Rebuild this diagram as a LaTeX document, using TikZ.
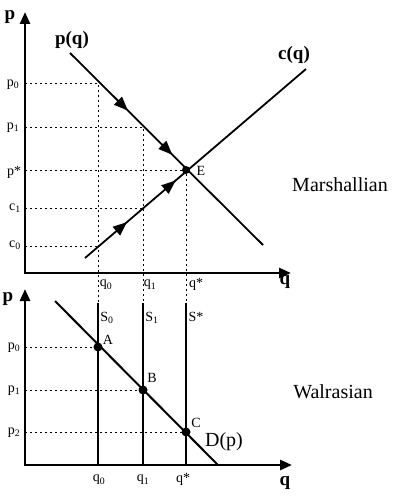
\documentclass[tikz,border=0pt]{standalone}
\usepackage{fontspec}
\setmainfont{Liberation Serif}
\usepackage{tikz}
\usetikzlibrary{arrows.meta,decorations.markings}
\definecolor{cInk}{HTML}{000000}
\tikzset{
  axis-line/.style={draw=cInk,line width=2.6pt,
    {Triangle[width=10pt,length=12pt]}-{Triangle[width=10pt,length=12pt]}},
  curve-line/.style={draw=cInk,line width=1.8pt},
  supply-line/.style={draw=cInk,line width=2.4pt},
  guide-line/.style={draw=cInk,line width=0.8pt,dash pattern=on 2pt off 3pt},
  eq-dot/.style={circle,fill=cInk,inner sep=0pt,minimum size=9pt},
  tick-label/.style={font=\fontsize{14}{16}\selectfont,inner sep=0pt},
  point-label/.style={font=\fontsize{14}{16}\selectfont,inner sep=0pt},
  axis-label/.style={font=\fontsize{19}{22}\selectfont\bfseries,inner sep=0pt},
  curve-label/.style={font=\fontsize{19}{22}\selectfont\bfseries,inner sep=0pt},
  panel-label/.style={font=\fontsize{20}{24}\selectfont,inner sep=0pt},
  % two flow arrows along a curve, tips pointing to E
  flow-arrows/.style 2 args={postaction={decorate},decoration={markings,
    mark=at position #1 with {\arrow{Triangle[width=11pt,length=14pt]}},
    mark=at position #2 with {\arrow{Triangle[width=11pt,length=14pt]}}}},
}

\begin{document}
\begin{tikzpicture}[x=1pt,y=-1pt]
  \useasboundingbox (0,0) rectangle (396,497);
  % Marshallian panel
  \coordinate (top-origin) at (25,273);
  \coordinate (top-ytip) at (25,12);
  \coordinate (top-xtip) at (291,273);
  \draw[axis-line] (top-ytip) -- (top-origin) -- (top-xtip);
  \node[axis-label] (top-p) at (10,17) {p};
  \node[axis-label] (top-q) at (285,282) {q};

  \coordinate (pq-start) at (70,53);
  \coordinate (pq-end) at (263,245);
  \coordinate (cq-start) at (85,258);
  \coordinate (cq-end) at (306,69);
  \draw[curve-line,flow-arrows={0.3}{0.53}] (pq-start) -- (pq-end);
  \draw[curve-line,flow-arrows={0.19}{0.41}] (cq-start) -- (cq-end);
  \node[curve-label] (pq-lab) at (72,40) {p(q)};
  \node[curve-label] (cq-lab) at (294,55) {c(q)};

  \coordinate (pq-q0) at (98,83);
  \coordinate (pq-q1) at (143,127);
  \coordinate (cq-q1) at (143,208);
  \coordinate (cq-q0) at (98,246);
  \coordinate (p0-tick) at (25,83);
  \coordinate (p1-tick) at (25,127);
  \coordinate (ps-tick) at (25,170);
  \coordinate (c1-tick) at (25,208);
  \coordinate (c0-tick) at (25,246);
  \coordinate (q0-drop) at (98,303);
  \coordinate (q1-drop) at (143,303);
  \coordinate (qs-drop) at (186,303);

  \node[eq-dot,minimum size=8pt] (E) at (186,170) {};
  \node[point-label] (E-lab) at (201,171) {E};

  \draw[guide-line] (p0-tick) -- (pq-q0) -- (q0-drop);
  \draw[guide-line] (p1-tick) -- (pq-q1) -- (q1-drop);
  \draw[guide-line] (ps-tick) -- (E.center) -- (qs-drop);
  \draw[guide-line] (c1-tick) -- (cq-q1);
  \draw[guide-line] (c0-tick) -- (cq-q0);

  \node[tick-label] (p0-top) at (13,85) {p\textsubscript{0}};
  \node[tick-label] (p1-top) at (13,128) {p\textsubscript{1}};
  \node[tick-label] (ps-top) at (14,172) {p*};
  \node[tick-label] (c1-top) at (15,208) {c\textsubscript{1}};
  \node[tick-label] (c0-top) at (15,245) {c\textsubscript{0}};
  \node[tick-label] (q0-top) at (106,285) {q\textsubscript{0}};
  \node[tick-label] (q1-top) at (150,285) {q\textsubscript{1}};
  \node[tick-label] (qs-top) at (196,284) {q*};
  \node[panel-label] (marsh) at (340,185) {Marshallian};

  % Walrasian panel
  \coordinate (low-origin) at (25,465);
  \coordinate (low-ytip) at (25,289);
  \coordinate (low-xtip) at (292,465);
  \draw[axis-line] (low-ytip) -- (low-origin) -- (low-xtip);
  \node[axis-label] (low-p) at (8,299) {p};
  \node[axis-label] (low-q) at (285,483) {q};

  \coordinate (S0-base) at (98,465);
  \coordinate (S1-base) at (143,465);
  \coordinate (Ss-base) at (186,465);
  \draw[supply-line] (q0-drop) -- (S0-base);
  \draw[supply-line] (q1-drop) -- (S1-base);
  \draw[supply-line] (qs-drop) -- (Ss-base);

  \coordinate (D-start) at (55,301);
  \coordinate (D-end) at (218,465);
  \draw[curve-line,line width=2pt] (D-start) -- (D-end);

  \node[eq-dot] (A) at (98,347) {};
  \node[eq-dot] (B) at (143,390) {};
  \node[eq-dot] (C) at (186,432) {};
  \coordinate (p0-low) at (25,347);
  \coordinate (p1-low) at (25,390);
  \coordinate (p2-low) at (25,432);
  \draw[guide-line] (p0-low) -- (A.center);
  \draw[guide-line] (p1-low) -- (B.center);
  \draw[guide-line] (p2-low) -- (C.center);

  \node[point-label] (A-lab) at (108,340) {A};
  \node[point-label] (B-lab) at (152,378) {B};
  \node[point-label] (C-lab) at (196,423) {C};
  \node[point-label] (S0-lab) at (107,318) {S\textsubscript{0}};
  \node[point-label] (S1-lab) at (152,318) {S\textsubscript{1}};
  \node[point-label] (Ss-lab) at (196,317) {S*};
  \node[panel-label] (D-lab) at (224,442) {D(p)};

  \node[tick-label] (p0-bot) at (14,348) {p\textsubscript{0}};
  \node[tick-label] (p1-bot) at (14,391) {p\textsubscript{1}};
  \node[tick-label] (p2-bot) at (14,433) {p\textsubscript{2}};
  \node[tick-label] (q0-bot) at (99,480) {q\textsubscript{0}};
  \node[tick-label] (q1-bot) at (143,480) {q\textsubscript{1}};
  \node[tick-label] (qs-bot) at (183,479) {q*};
  \node[panel-label] (walras) at (333,392) {Walrasian};
\end{tikzpicture}
\end{document}
